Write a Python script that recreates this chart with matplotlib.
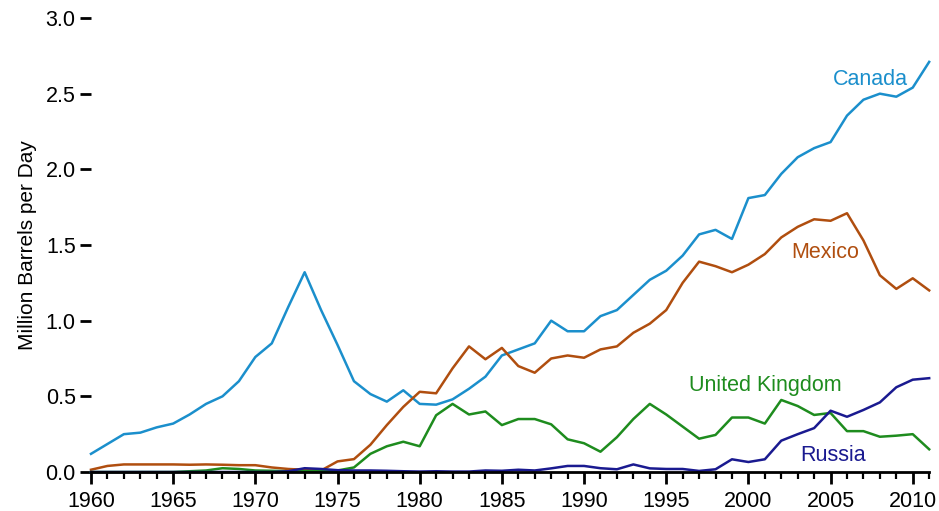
import matplotlib
matplotlib.use("Agg")
import matplotlib.pyplot as plt
import numpy as np

years = list(range(1960, 2012))

canada = [0.12, 0.185, 0.25, 0.26, 0.295, 0.32, 0.38, 0.45, 0.50, 0.60,
          0.76, 0.85, 1.09, 1.32, 1.07, 0.84, 0.60, 0.515, 0.465, 0.54,
          0.45, 0.445, 0.48, 0.55, 0.63, 0.77, 0.81, 0.85, 1.00, 0.93,
          0.93, 1.03, 1.07, 1.17, 1.27, 1.33, 1.43, 1.57, 1.60, 1.54,
          1.81, 1.83, 1.97, 2.08, 2.14, 2.18, 2.355, 2.46, 2.50, 2.48,
          2.54, 2.71]

mexico = [0.015, 0.04, 0.05, 0.05, 0.05, 0.05, 0.048, 0.05, 0.048, 0.045,
          0.045, 0.03, 0.02, 0.015, 0.01, 0.07, 0.085, 0.18, 0.31, 0.43,
          0.53, 0.52, 0.685, 0.83, 0.745, 0.82, 0.70, 0.656, 0.75, 0.77,
          0.755, 0.81, 0.83, 0.92, 0.98, 1.07, 1.25, 1.39, 1.36, 1.32,
          1.37, 1.44, 1.55, 1.62, 1.67, 1.66, 1.71, 1.53, 1.30, 1.21,
          1.28, 1.20]

uk = [0.0, 0.0, 0.0, 0.0, 0.0, 0.0, 0.005, 0.01, 0.025, 0.02,
      0.01, 0.008, 0.005, 0.005, 0.005, 0.01, 0.03, 0.12, 0.17, 0.20,
      0.17, 0.375, 0.45, 0.38, 0.40, 0.31, 0.35, 0.35, 0.315, 0.216,
      0.19, 0.134, 0.23, 0.35, 0.45, 0.38, 0.30, 0.22, 0.245, 0.36,
      0.36, 0.32, 0.476, 0.436, 0.377, 0.39, 0.27, 0.27, 0.233, 0.24,
      0.25, 0.15]

russia = [0.0, 0.0, 0.0, 0.0, 0.0, 0.0, 0.0, 0.0, 0.0, 0.0,
          0.0, 0.0, 0.005, 0.025, 0.02, 0.012, 0.01, 0.01, 0.008, 0.005,
          0.003, 0.005, 0.003, 0.003, 0.01, 0.008, 0.015, 0.01, 0.024, 0.04,
          0.04, 0.025, 0.018, 0.05, 0.024, 0.02, 0.02, 0.007, 0.018, 0.084,
          0.066, 0.084, 0.207, 0.25, 0.29, 0.405, 0.365, 0.41, 0.46, 0.56,
          0.61, 0.62]

names = ["Canada", "Mexico", "United Kingdom", "Russia"]
colors = ["#1b8fcc", "#b04e0f", "#1e8c1e", "#1a1a90"]

plt.rcParams['font.family'] = ['Liberation Sans', 'DejaVu Sans']

W, H = 939, 511
fig = plt.figure(figsize=(W/100, H/100), dpi=100)
ax = fig.add_axes([91/W, 1 - 472/H, (930 - 91)/W, (472 - 18)/H])

for series, c in zip([canada, mexico, uk, russia], colors):
    ax.plot(years, series, color=c, lw=1.8, clip_on=False)

ax.set_xlim(1960, 2011.05)
ax.set_ylim(0, 3.0)

for s in ['top', 'right', 'left']:
    ax.spines[s].set_visible(False)
ax.spines['bottom'].set_linewidth(2)
ax.spines['bottom'].set_bounds(1960, 2011)

ax.set_xticks(np.arange(1960, 2011, 5))
ax.set_xticks(np.arange(1960, 2012, 1), minor=True)
ax.set_yticks([0.0, 0.5, 1.0, 1.5, 2.0, 2.5, 3.0])
ax.set_yticklabels(["0.0", "0.5", "1.0", "1.5", "2.0", "2.5", "3.0"])

ax.tick_params(axis='x', which='major', length=8.6, width=2, labelsize=15.5, pad=5, direction='out')
ax.tick_params(axis='x', which='minor', length=5, width=1.6, direction='out')
ax.tick_params(axis='y', which='major', length=8, width=2, labelsize=15.5, pad=3, direction='out')

ax.set_ylabel("Million Barrels per Day", fontsize=15, labelpad=6)

label_pos = [(908, 79), (859, 252), (842, 385), (866, 455)]
for name, c, (px, py) in zip(names, colors, label_pos):
    fig.text(px / W, 1 - py / H, name, fontsize=15.5, color=c, ha='right', va='center')

fig.savefig("out.png", dpi=100)
